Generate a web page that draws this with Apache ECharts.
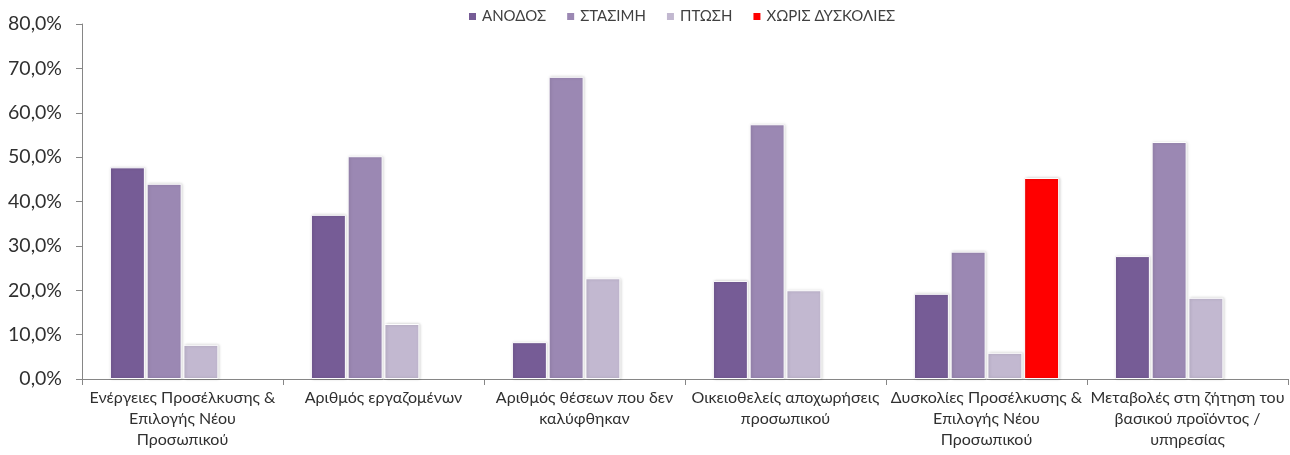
<!DOCTYPE html>
<html>
<head>
<meta charset="utf-8">
<script src="https://cdn.jsdelivr.net/npm/echarts@6/dist/echarts.min.js"></script>
<style>html,body{margin:0;padding:0;background:#fff}#c{width:1290px;height:455px}</style>
</head>
<body>
<div id="c"></div>
<script>
const categories = [
  "Ενέργειες Προσέλκυσης &\nΕπιλογής Νέου\nΠροσωπικού",
  "Αριθμός εργαζομένων",
  "Αριθμός θέσεων που δεν\nκαλύφθηκαν",
  "Οικειοθελείς αποχωρήσεις\nπροσωπικού",
  "Δυσκολίες Προσέλκυσης &\nΕπιλογής Νέου\nΠροσωπικού",
  "Μεταβολές στη ζήτηση του\nβασικού προϊόντος /\nυπηρεσίας"
];
const seriesNames = ["ΑΝΟΔΟΣ", "ΣΤΑΣΙΜΗ", "ΠΤΩΣΗ", "ΧΩΡΙΣ ΔΥΣΚΟΛΙΕΣ"];
const anodos   = [47.7, 37.0, 8.3, 22.1, 19.2, 27.7];
const stasimi  = [44.0, 50.2, 68.1, 57.4, 28.7, 53.4];
const ptosi    = [7.7, 12.4, 22.7, 20.0, 5.9, 18.3];
const xorisDysk = [null, null, null, null, 45.3, null];
const yTicks = [0, 10, 20, 30, 40, 50, 60, 70, 80];

const colors = ["#765c96", "#9b88b3", "#c2b8d0", "#ff0000"];
const font = "Lato, 'Open Sans', sans-serif";
const dataSets = [anodos, stasimi, ptosi, xorisDysk];

const chart = echarts.init(document.getElementById('c'), null, {renderer: 'canvas'});
chart.setOption({
  animation: false,
  textStyle: {fontFamily: font},
  legend: {
    top: 4,
    left: 462,
    itemWidth: 9, itemHeight: 9, itemGap: 19,
    icon: 'rect',
    textStyle: {fontSize: 15, color: '#404040', fontFamily: font},
    data: seriesNames
  },
  grid: {left: 82, right: 2, top: 24, bottom: 76, containLabel: false},
  xAxis: {
    type: 'category',
    data: categories,
    axisLine: {lineStyle: {color: '#868686', width: 1}},
    axisTick: {show: true, alignWithLabel: false, length: 6, lineStyle: {color: '#868686'}},
    axisLabel: {interval: 0, fontSize: 16, lineHeight: 21, color: '#303030', margin: 8, fontFamily: font}
  },
  yAxis: {
    type: 'value',
    min: yTicks[0], max: yTicks[yTicks.length - 1], interval: 10,
    splitLine: {show: false},
    axisLine: {show: true, lineStyle: {color: '#868686', width: 1}},
    axisTick: {show: true, length: 6, lineStyle: {color: '#868686'}},
    axisLabel: {fontSize: 19.5, color: '#303030', margin: 20, fontFamily: font,
      formatter: v => v.toFixed(1).replace('.', ',') + '%'}
  },
  series: seriesNames.map((n, i) => ({
    name: n,
    type: 'bar',
    data: dataSets[i],
    barWidth: 35,
    barGap: '5%',
    barCategoryGap: '27%',
    itemStyle: {color: colors[i], borderColor: '#ffffff', borderWidth: 1,
      shadowColor: 'rgba(0,0,0,0.18)', shadowBlur: 3, shadowOffsetX: 1, shadowOffsetY: 0}
  }))
});
</script>
</body>
</html>
